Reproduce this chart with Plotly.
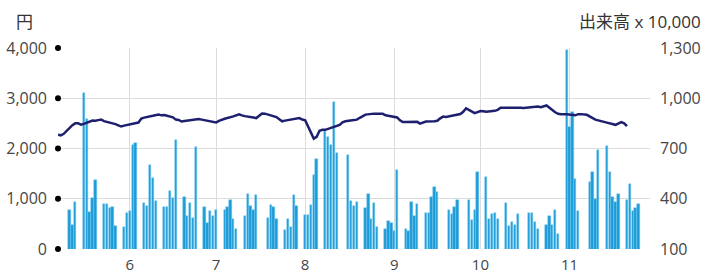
import pandas as pd
import plotly.graph_objects as go

# ---- data ----
trading_days = pd.bdate_range("2022-05-11", "2022-11-25")
no_volume_days = ["2022-07-18", "2022-08-15", "2022-09-19", "2022-09-26",
                  "2022-10-17", "2022-11-07"]
bar_dates = [d for d in trading_days if d.strftime("%Y-%m-%d") not in no_volume_days]

volume = [
    330, 245, 383,
    1031, 877, 320, 407, 512,
    367, 367, 345, 353, 237,
    233, 317, 327, 722, 735,
    377, 355, 600, 525, 385,
    350, 350, 448, 403, 751,
    413, 298, 374, 283, 710,
    349, 253, 327, 300, 335,
    335, 348, 390, 278, 220,
    298, 429, 357, 333, 421,
    285, 365, 351, 278,
    216, 278, 230, 423, 357,
    304, 304, 365, 542, 637,
    805, 770, 722, 980, 672,
    662, 385, 358, 383,
    343, 429, 278, 375, 232,
    220, 270, 253, 208, 572,
    220, 205, 383, 295, 370,
    317, 317, 413, 468, 440,
    335, 308, 351, 391,
    390, 271, 335, 559,
    532, 277, 310, 317, 278,
    373, 236, 263, 243, 309,
    313, 317, 263, 222,
    243, 300, 243, 335, 190,
    1290, 830, 920, 520, 328,
    502, 559, 398, 694,
    717, 558, 413, 383, 429,
    391, 487, 328, 346, 368,
]

line_dates = trading_days - pd.Timedelta(days=4)
price = [
    2276, 2262, 2292,
    2465, 2501, 2501, 2475, 2491,
    2557, 2551, 2565, 2577, 2545,
    2507, 2485, 2461, 2437, 2455,
    2487, 2495, 2517, 2595, 2615,
    2650, 2664, 2676, 2660, 2664,
    2620, 2575, 2567, 2537, 2545,
    2575, 2585, 2585, 2575, 2561,
    2527, 2517, 2551, 2575, 2591,
    2640, 2660, 2680, 2660, 2644,
    2615, 2605, 2650, 2696, 2694,
    2650, 2625, 2581, 2541, 2555,
    2581, 2585, 2605, 2577, 2561,
    2196, 2232, 2352, 2371, 2371,
    2425, 2441, 2471, 2521, 2541,
    2565, 2575, 2611, 2644, 2674,
    2694, 2690, 2686, 2690, 2660,
    2621, 2619, 2561, 2525, 2525,
    2535, 2531, 2495, 2511, 2537,
    2541, 2551, 2601, 2634, 2625,
    2660, 2670, 2686, 2730, 2800,
    2704, 2720, 2744, 2740, 2730,
    2750, 2770, 2810, 2810, 2816,
    2824, 2820, 2810, 2804, 2810,
    2840, 2836, 2820, 2840, 2856,
    2720, 2690, 2684, 2684, 2680,
    2660, 2684, 2684, 2684, 2670,
    2575, 2557, 2537, 2519, 2515,
    2471, 2501, 2525, 2501, 2445,
]

month_ticks = ["2022-06-01", "2022-07-01", "2022-08-01", "2022-09-01",
               "2022-10-01", "2022-11-01"]
month_labels = ["6", "7", "8", "9", "10", "11"]
price_ticks = [0, 1000, 2000, 3000, 4000]
volume_ticks = [100, 400, 700, 1000, 1300]
price_range = [0, 4000]

assert len(bar_dates) == len(volume)
assert len(line_dates) == len(price)

# ---- figure ----
tick_font = dict(family="Open Sans", size=16, color="#454545")

fig = go.Figure()
fig.add_trace(go.Bar(
    x=bar_dates, y=volume, yaxis="y",
    width=0.8 * 86400000,
    marker=dict(color="#1d9bd7", line=dict(color="#72c9f0", width=0.5)),
    hoverinfo="skip",
))
fig.add_trace(go.Scatter(
    x=line_dates, y=price, yaxis="y2", mode="lines",
    line=dict(color="#1e1f6e", width=2.5),
    hoverinfo="skip",
))

# black dot tick markers on the left axis (paper coords, so not clipped)
shapes = []
for v in price_ticks:
    frac = (v - price_range[0]) / (price_range[1] - price_range[0])
    shapes.append(dict(
        type="circle", xref="paper", yref="paper",
        xsizemode="pixel", ysizemode="pixel",
        xanchor=0, yanchor=frac, x0=-3, x1=3, y0=-3, y1=3,
        fillcolor="#000000", line=dict(width=0), layer="above",
    ))

fig.update_layout(
    width=705, height=275,
    margin=dict(l=58, r=55, t=48, b=26, autoexpand=False),
    paper_bgcolor="white", plot_bgcolor="white",
    showlegend=False,
    bargap=0,
    xaxis=dict(
        type="date", range=["2022-05-07", "2022-11-29"],
        tickvals=month_ticks, ticktext=month_labels,
        showgrid=True, gridcolor="#dcdcdc", gridwidth=1,
        zeroline=False, showline=False, ticks="", automargin=False,
        tickfont=dict(family="Open Sans", size=15, color="#454545"),
        ticklabelstandoff=5,
    ),
    yaxis=dict(
        side="right", range=[100, 1300], tickvals=volume_ticks,
        tickformat=",d", showgrid=True, gridcolor="#dcdcdc", gridwidth=1,
        zeroline=False, showline=False, ticks="", automargin=False,
        tickfont=tick_font, ticklabelstandoff=9,
    ),
    yaxis2=dict(
        overlaying="y", side="left", range=price_range, tickvals=price_ticks,
        tickformat=",d", showgrid=False, zeroline=False, showline=False,
        ticks="", automargin=False, tickfont=tick_font, ticklabelstandoff=10,
    ),
    shapes=shapes,
    annotations=[
        dict(text="円", xref="paper", yref="paper", x=0, y=1,
             xanchor="center", yanchor="middle", xshift=-34, yshift=27,
             showarrow=False,
             font=dict(family="Open Sans, Noto Sans CJK JP", size=17, color="#333333")),
        dict(text="出来高 x 10,000", xref="paper", yref="paper", x=1, y=1,
             xanchor="right", yanchor="middle", xshift=53, yshift=27,
             showarrow=False,
             font=dict(family="Open Sans, Noto Sans CJK JP", size=17, color="#333333")),
    ],
)

fig.write_html(
    "out.html",
    config={"displayModeBar": False},
    post_script="document.body.style.margin='0';document.body.style.overflow='hidden';",
)
